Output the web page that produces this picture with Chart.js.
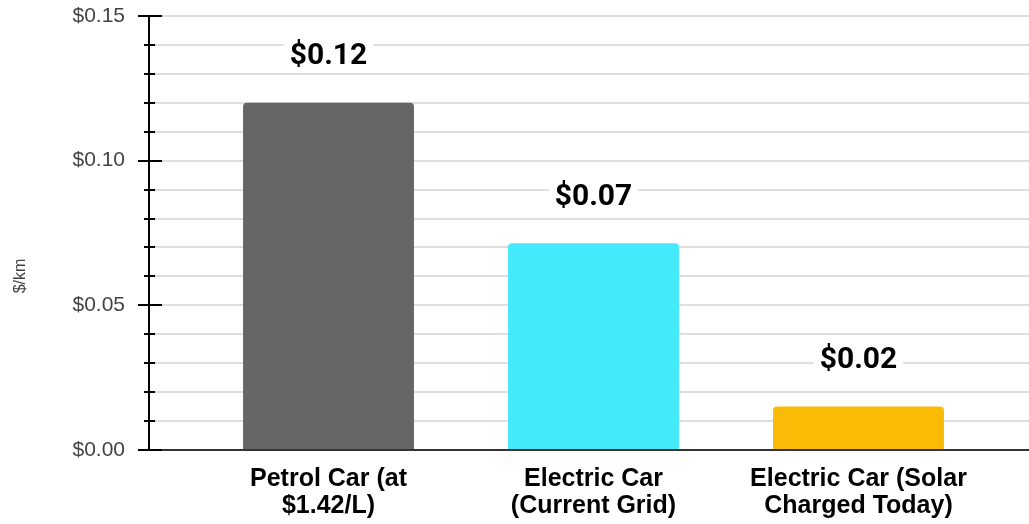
<!DOCTYPE html>
<html lang="en">
<head>
<meta charset="UTF-8">
<title>Cost per km</title>
<script src="https://cdn.jsdelivr.net/npm/chart.js"></script>
<style>
  html, body { margin: 0; padding: 0; background: #fff; }
  #wrap { width: 1029px; height: 524px; position: relative; }
</style>
</head>
<body>
<div id="wrap"><canvas id="costChart"></canvas></div>
<script>
// running cost per km for each car type
const categories = [
  ['Petrol Car (at', '$1.42/L)'],
  ['Electric Car', '(Current Grid)'],
  ['Electric Car (Solar', 'Charged Today)']
];
const costPerKm = [0.12, 0.0715, 0.015];
const barColors = ['#666666', '#45E9FC', '#F9BB06'];
const yTickValues = [0, 0.05, 0.10, 0.15];

const money = v => '$' + (Math.round(v * 100) / 100).toFixed(2);

// axis line ticks that cross the y axis, the rotated axis title and the value labels
const extras = {
  id: 'extras',
  afterDraw(chart) {
    const ctx = chart.ctx;
    const y = chart.scales.y;
    const area = chart.chartArea;
    ctx.save();
    ctx.strokeStyle = '#000';
    ctx.lineWidth = 2;
    for (let i = 0; i <= 15; i++) {
      const py = Math.round(y.getPixelForValue(i / 100));
      const major = i % 5 === 0;
      ctx.beginPath();
      ctx.moveTo(area.left - (major ? 11 : 5), py);
      ctx.lineTo(area.left + (major ? 13 : 6), py);
      ctx.stroke();
    }

    ctx.fillStyle = '#444';
    ctx.font = "16px 'Liberation Sans', Arial, sans-serif";
    ctx.textAlign = 'center';
    ctx.textBaseline = 'middle';
    ctx.translate(21, 276);
    ctx.rotate(-Math.PI / 2);
    ctx.fillText('$/km', 0, 0);
    ctx.restore();

    ctx.save();
    ctx.font = "bold 30px Roboto, 'Liberation Sans', sans-serif";
    ctx.textAlign = 'center';
    ctx.textBaseline = 'middle';
    chart.getDatasetMeta(0).data.forEach((bar, i) => {
      const text = money(costPerKm[i]);
      const w = ctx.measureText(text).width;
      const cy = bar.y - 46;
      ctx.fillStyle = '#fff';
      ctx.fillRect(bar.x - w / 2 - 6, cy - 16, w + 12, 32);
      ctx.fillStyle = '#000';
      ctx.fillText(text, bar.x, cy);
    });
    ctx.restore();
  }
};

new Chart(document.getElementById('costChart'), {
  type: 'bar',
  data: {
    datasets: [{
      data: costPerKm.map((v, i) => ({ x: i, y: v })),
      backgroundColor: barColors,
      borderRadius: 4,
      categoryPercentage: 1,
      barPercentage: 0.645
    }]
  },
  options: {
    responsive: true,
    maintainAspectRatio: false,
    animation: false,
    layout: { padding: { top: 16, right: 0, left: 0, bottom: 0 } },
    plugins: { legend: { display: false }, tooltip: { enabled: false } },
    scales: {
      x: {
        type: 'linear',
        offset: false,
        min: -0.6774,
        max: 2.6434,
        afterBuildTicks: s => { s.ticks = categories.map((c, i) => ({ value: i })); },
        afterFit: s => {
          s.height = 74;
          s.paddingLeft = 0;
          s.paddingRight = 0;
        },
        grid: { display: false, drawTicks: false, offset: false },
        border: { display: true, color: '#333', width: 2 },
        ticks: {
          autoSkip: false,
          maxRotation: 0,
          padding: 15,
          color: '#000',
          font: { family: "'Liberation Sans', Arial, sans-serif", size: 25, weight: 'bold', lineHeight: 1.1 },
          callback: v => categories[v]
        }
      },
      y: {
        min: 0,
        max: 0.15,
        afterFit: s => {
          s.width = 149;
          s.paddingTop = 0;
          s.paddingBottom = 0;
        },
        afterBuildTicks: s => { s.ticks = Array.from({ length: 16 }, (_, i) => ({ value: i / 100 })); },
        grid: { color: '#dedede', lineWidth: 2, drawTicks: false },
        border: { display: true, color: '#000', width: 2 },
        ticks: {
          padding: 24,
          color: '#444',
          font: { family: "'Liberation Sans', Arial, sans-serif", size: 21 },
          callback: v => yTickValues.some(t => Math.abs(t - v) < 1e-6) ? money(v) : ''
        }
      }
    }
  },
  plugins: [extras]
});
</script>
</body>
</html>
